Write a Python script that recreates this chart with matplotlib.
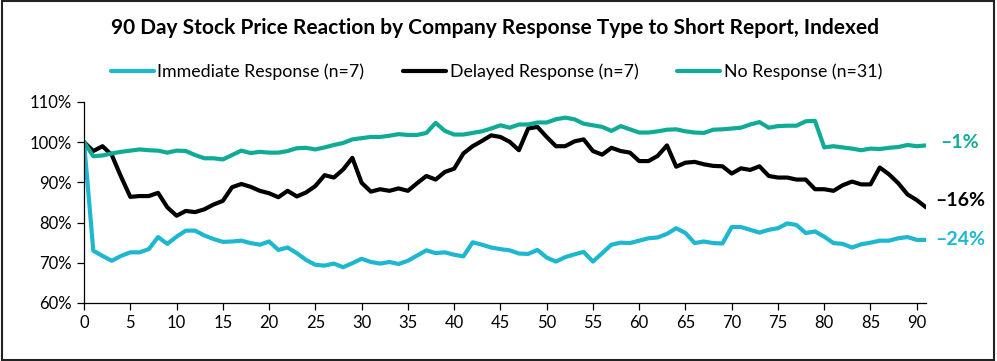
import numpy as np
import matplotlib
matplotlib.use("Agg")
import matplotlib.pyplot as plt
from matplotlib.patches import Rectangle

plt.rcParams['font.family'] = ['Lato', 'DejaVu Sans']

# trading days after the short report
days = list(range(0, 92))

# indexed price, day 0 = 100%
immediate = [100, 73.0, 71.7, 70.5, 71.7, 72.6, 72.6, 73.4, 76.4, 74.7,
             76.5, 78.0, 78.0, 76.8, 75.9, 75.2, 75.3, 75.5, 74.9, 74.5,
             75.3, 73.2, 73.8, 72.4, 70.7, 69.5, 69.3, 69.8, 68.9, 69.9,
             71.0, 70.2, 69.8, 70.2, 69.7, 70.5, 71.8, 73.1, 72.4, 72.6,
             72.0, 71.6, 75.1, 74.5, 73.8, 73.4, 73.1, 72.3, 72.2, 73.2,
             71.3, 70.3, 71.4, 72.1, 72.7, 70.3, 72.4, 74.5, 75.0, 74.9,
             75.5, 76.1, 76.3, 77.2, 78.6, 77.4, 74.9, 75.3, 74.9, 74.8,
             78.9, 78.9, 78.2, 77.5, 78.2, 78.6, 79.8, 79.4, 77.4, 77.8,
             76.5, 74.9, 74.7, 73.8, 74.6, 75.0, 75.5, 75.5, 76.1, 76.4,
             75.7, 75.7]

delayed = [100, 97.8, 99.0, 96.8, 91.4, 86.4, 86.6, 86.6, 87.4, 83.8,
           81.7, 82.9, 82.6, 83.3, 84.5, 85.4, 88.8, 89.6, 88.9, 87.9,
           87.3, 86.3, 87.9, 86.5, 87.5, 89.1, 91.8, 91.2, 93.2, 96.1,
           89.9, 87.7, 88.3, 87.9, 88.5, 87.9, 89.8, 91.6, 90.7, 92.6,
           93.4, 97.2, 99.0, 100.3, 101.7, 101.3, 100.1, 98.0, 103.4, 103.8,
           101.3, 99.0, 99.0, 100.2, 100.7, 97.8, 96.9, 98.6, 97.8, 97.4,
           95.3, 95.3, 96.6, 99.2, 93.9, 94.9, 95.1, 94.5, 94.1, 94.0,
           92.2, 93.5, 93.1, 94.0, 91.6, 91.2, 91.2, 90.7, 90.7, 88.3,
           88.3, 87.9, 89.3, 90.2, 89.5, 89.5, 93.7, 92.0, 89.8, 87.0,
           85.6, 83.8]

no_response = [100, 96.5, 96.7, 97.2, 97.6, 97.9, 98.2, 98.0, 97.9, 97.4,
               97.9, 97.8, 96.8, 96.0, 96.0, 95.7, 96.8, 97.9, 97.3, 97.6,
               97.4, 97.4, 97.8, 98.5, 98.6, 98.2, 98.7, 99.3, 99.8, 100.7,
               101.0, 101.3, 101.3, 101.6, 102.0, 101.8, 101.8, 102.3, 104.8, 102.8,
               101.9, 101.9, 102.3, 102.7, 103.4, 104.2, 103.6, 104.4, 104.4, 104.9,
               104.9, 105.7, 106.1, 105.7, 104.6, 104.2, 103.8, 102.8, 104.0, 103.2,
               102.4, 102.4, 102.7, 103.1, 103.2, 102.7, 102.4, 102.3, 103.1, 103.2,
               103.4, 103.6, 104.4, 105.0, 103.6, 104.0, 104.1, 104.1, 105.2, 105.3,
               98.7, 99.0, 98.7, 98.4, 98.0, 98.4, 98.3, 98.6, 98.8, 99.3,
               99.0, 99.2]

series_names = ['Immediate Response (n=7)', 'Delayed Response (n=7)', 'No Response (n=31)']
end_labels = ['\u201324%', '\u201316%', '\u20131%']
colors = ['#1DB7CF', '#000000', '#10AB97']

fig = plt.figure(figsize=(9.97, 3.61), dpi=100)
ax = fig.add_axes([0.0843, 0.1607, 0.8445, 0.5568])

label_dy = [0, 5, 2]  # small nudges (points) so labels sit like the original
for vals, name, lab, c, dy in zip([immediate, delayed, no_response], series_names,
                                  end_labels, colors, label_dy):
    ax.plot(days, vals, color=c, lw=3, label=name, solid_joinstyle='round',
            solid_capstyle='round')
    ax.annotate(lab, xy=(days[-1], vals[-1]), xytext=(24.5, dy),
                textcoords='offset points', ha='center', va='center',
                color=c, fontsize=14, fontweight='bold')

ax.set_xlim(0, 91)
ax.set_ylim(60, 110)
ax.set_xticks(range(0, 91, 5))
ax.set_yticks(range(60, 111, 10))
ax.set_yticklabels([f'{v}%' for v in range(60, 111, 10)])
for s in ['top', 'right']:
    ax.spines[s].set_visible(False)
for s in ['left', 'bottom']:
    ax.spines[s].set_linewidth(0.9)
ax.tick_params(axis='both', labelsize=12, length=5, width=0.9, direction='out', pad=4)

fig.text(0.496, 0.922, '90 Day Stock Price Reaction by Company Response Type to Short Report, Indexed',
         ha='center', va='center', fontsize=15, fontweight='bold')

fig.legend(loc='center', bbox_to_anchor=(0.498, 0.80), ncol=3, frameon=False,
           fontsize=12.8, handlelength=2.4, handletextpad=0.2, columnspacing=2.2)

fig.patches.append(Rectangle((0.002, 0.004), 0.995, 0.992, transform=fig.transFigure,
                             fill=False, edgecolor='#222222', lw=1.5))

fig.savefig('out.png', dpi=100)
